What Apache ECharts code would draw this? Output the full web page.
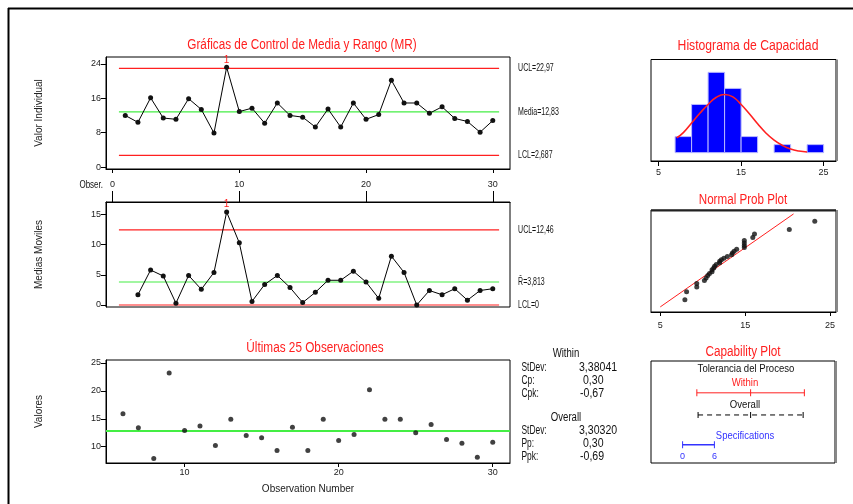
<!DOCTYPE html>
<html><head><meta charset="utf-8">
<script src="https://cdn.jsdelivr.net/npm/echarts@6/dist/echarts.min.js"></script>
<style>html,body{margin:0;padding:0;background:#fff}#c{width:853px;height:504px}</style>
</head><body><div id="c"></div>
<script>
// ---------- data ----------
const individuals = [12.0,10.4,16.1,11.4,11.1,15.9,13.4,7.9,23.2,12.9,13.7,10.2,14.9,12.0,11.6,9.3,13.5,9.3,14.9,11.1,12.2,20.2,14.9,14.9,12.5,14.0,11.3,10.6,8.1,10.8];
const movingRanges = [null,1.7,5.8,4.8,0.3,4.9,2.6,5.4,15.4,10.3,0.6,3.4,4.9,2.9,0.4,2.1,4.1,4.1,5.6,3.8,1.1,8.1,5.4,0.0,2.4,1.7,2.7,0.8,2.4,2.7];
const iLimitValues = [22.97, 12.83, 2.687];
const iLimitLabels = ['UCL=22,97', 'Media=12,83', 'LCL=2,687'];
const mrLimitValues = [12.46, 3.813, 0];
const mrLimitLabels = ['UCL=12,46', 'R\u0304=3,813', 'LCL=0'];
const outOfControlIndex = 8;
const lastObsStart = 6;
const binStarts = [7, 9, 11, 13, 15, 17, 19, 21, 23];
const binCounts = [2, 6, 10, 8, 2, 0, 1, 0, 1];
const binWidth = 2;
const curveX = [7.2, 8, 9, 10, 11, 12, 13, 14, 15, 16, 17, 18, 19, 20, 21, 22, 23];
const curveY = [1.85, 2.5, 3.7, 4.9, 6.0, 6.9, 7.25, 6.95, 6.0, 4.85, 3.6, 2.45, 1.55, 0.9, 0.45, 0.2, 0.08];
const probX = [7.9,8.1,9.3,9.3,10.2,10.4,10.6,10.8,11.1,11.1,11.3,11.4,11.6,12.0,12.0,12.2,12.5,12.9,13.4,13.5,13.7,14.0,14.9,14.9,14.9,14.9,15.9,16.1,20.2,23.2];
const probZ = [-2.0,-1.59,-1.35,-1.17,-1.02,-0.89,-0.77,-0.66,-0.57,-0.47,-0.38,-0.29,-0.21,-0.12,-0.04,0.04,0.12,0.21,0.29,0.38,0.47,0.57,0.66,0.77,0.89,1.02,1.17,1.35,1.59,2.0];
const probLineX = [5, 20.7];
const probLineZ = [-2.37, 2.38];
const withinInterval = [2.687, 12.83, 22.97];
const overallInterval = [2.92, 12.83, 22.74];
const specLimits = [0, 6];
const withinNames = ['StDev:', 'Cp:', 'Cpk:'];
const withinValues = ['3,38041', '0,30', '-0,67'];
const overallNames = ['StDev:', 'Pp:', 'Ppk:'];
const overallValues = ['3,30320', '0,30', '-0,69'];

// ---------- styles ----------
const FF = "'Liberation Sans',Arial,sans-serif";
const RED = '#ff2020', GREEN = '#44ee44', BLUE = '#0000ff', SPECBLUE = '#3333ff';
const tickStyle = {color: '#000', width: 1};
const lblStyle = {fontSize: 9, color: '#222', fontFamily: FF};

function valAxis(o) {
  const base = {
    type: 'value', splitLine: {show: false},
    axisLine: {show: true, onZero: false, lineStyle: {color: '#000'}},
    axisTick: {show: true, length: 4, lineStyle: tickStyle},
    axisLabel: Object.assign({}, lblStyle),
    nameTextStyle: {fontSize: 10, color: '#222', fontFamily: FF}
  };
  const r = Object.assign({}, base, o);
  if (o.ticks) {
    r.axisTick = Object.assign({}, base.axisTick, {customValues: o.ticks}, o.axisTick || {});
    r.axisLabel = Object.assign({}, base.axisLabel, {customValues: o.ticks}, o.axisLabel || {});
    delete r.ticks;
  }
  return r;
}
function hiddenAxis(o) { return Object.assign({type: 'value', show: false, splitLine: {show: false}}, o); }

const LINE_START = 0.5, LINE_END = 30.5;
function limitSeries(axisIndex, values, colors) {
  return values.map((v, i) => ({
    type: 'line', xAxisIndex: axisIndex, yAxisIndex: axisIndex, showSymbol: false, silent: true, z: 3,
    lineStyle: {color: colors[i], width: 1.2, type: 'solid'},
    data: [[LINE_START, v], [LINE_END, v]]
  }));
}

const gridBase = {show: true, borderColor: '#000', borderWidth: 1, backgroundColor: 'transparent'};
const grids = [
  Object.assign({left: 106, top: 57, width: 404, height: 112}, gridBase),
  Object.assign({left: 106, top: 202, width: 404, height: 105}, gridBase),
  Object.assign({left: 106, top: 360, width: 404, height: 103}, gridBase),
  Object.assign({left: 651, top: 59.5, width: 185, height: 101.5}, gridBase),
  Object.assign({left: 651, top: 210, width: 185, height: 102}, gridBase),
  Object.assign({left: 651, top: 361, width: 184, height: 102}, gridBase)
];

const xAxes = [
  valAxis({gridIndex: 0, min: -0.52, max: 31.36, ticks: [0, 10, 20, 30], axisLabel: {margin: 11}}),
  valAxis({gridIndex: 1, min: -0.52, max: 31.36, position: 'top', ticks: [0, 10, 20, 30],
           axisTick: {length: 11}, axisLabel: {show: false}}),
  valAxis({gridIndex: 2, min: 4.9, max: 31.12, ticks: [10, 20, 30], axisLabel: {margin: 5},
           name: 'Observation Number', nameLocation: 'middle', nameGap: 21}),
  valAxis({gridIndex: 3, min: 4.08, max: 26.5, ticks: [5, 15, 25], axisTick: {length: 5}, axisLabel: {margin: 7}}),
  valAxis({gridIndex: 4, min: 3.91, max: 25.7, ticks: [5, 15, 25], axisTick: {length: 4}, axisLabel: {margin: 9}}),
  hiddenAxis({gridIndex: 5, min: -5.96, max: 28.75})
];
const yAxes = [
  valAxis({gridIndex: 0, min: -0.46, max: 25.6, ticks: [0, 8, 16, 24], axisTick: {length: 5}, axisLabel: {margin: 5},
           name: 'Valor Individual', nameLocation: 'middle', nameRotate: 90, nameGap: 62}),
  valAxis({gridIndex: 1, min: -0.33, max: 17.07, ticks: [0, 5, 10, 15], axisTick: {length: 5}, axisLabel: {margin: 5},
           name: 'Medias Moviles', nameLocation: 'middle', nameRotate: 90, nameGap: 62}),
  valAxis({gridIndex: 2, min: 7.08, max: 25.54, ticks: [10, 15, 20, 25], axisTick: {length: 5}, axisLabel: {margin: 5},
           name: 'Valores', nameLocation: 'middle', nameRotate: 90, nameGap: 62}),
  hiddenAxis({gridIndex: 3, min: -1.04, max: 11.6}),
  hiddenAxis({gridIndex: 4, min: -2.63, max: 2.58}),
  hiddenAxis({gridIndex: 5, min: 0, max: 1})
];

const redOne = {show: true, formatter: '1', color: RED, position: 'top', distance: 0, fontSize: 10, fontFamily: FF};
const capRows = {within: 0.688, overall: 0.471, spec: 0.178};

const series = [].concat(
  limitSeries(0, iLimitValues, [RED, GREEN, RED]),
  limitSeries(1, mrLimitValues, [RED, GREEN, RED]),
  [
  {
    type: 'line', xAxisIndex: 0, yAxisIndex: 0, symbol: 'circle', symbolSize: 5, z: 5,
    itemStyle: {color: '#111'}, lineStyle: {color: '#000', width: 1},
    data: individuals.map((v, i) => i === outOfControlIndex ? {value: [i + 1, v], label: redOne} : [i + 1, v])
  },
  {
    type: 'line', xAxisIndex: 1, yAxisIndex: 1, symbol: 'circle', symbolSize: 5, z: 5,
    itemStyle: {color: '#111'}, lineStyle: {color: '#000', width: 1},
    data: movingRanges.map((v, i) => v === null ? null : (i === outOfControlIndex ? {value: [i + 1, v], label: redOne} : [i + 1, v])).filter(d => d !== null)
  },
  {
    type: 'scatter', xAxisIndex: 2, yAxisIndex: 2, symbol: 'circle', symbolSize: 5, z: 5,
    itemStyle: {color: '#111'},
    data: individuals.slice(lastObsStart - 1).map((v, i) => [i + lastObsStart, v]),
    markLine: {silent: true, symbol: 'none', label: {show: false}, lineStyle: {color: GREEN, width: 2, type: 'solid'},
               data: [{yAxis: iLimitValues[1]}]}
  },
  {
    type: 'custom', xAxisIndex: 3, yAxisIndex: 3,
    data: binStarts.map((s, i) => [s, s + binWidth, binCounts[i]]),
    encode: {x: [0, 1], y: 2},
    renderItem: function (params, api) {
      const c = api.value(2);
      if (!c) return null;
      const p0 = api.coord([api.value(0), c]);
      const p1 = api.coord([api.value(1), 0]);
      return {type: 'rect', shape: {x: p0[0], y: p0[1], width: p1[0] - p0[0], height: p1[1] - p0[1]},
              style: {fill: BLUE, stroke: '#b8b8ff', lineWidth: 1}};
    }
  },
  {
    type: 'line', xAxisIndex: 3, yAxisIndex: 3, smooth: true, showSymbol: false, z: 6,
    lineStyle: {color: RED, width: 1.6},
    data: curveX.map((x, i) => [x, curveY[i]])
  },
  {
    type: 'line', xAxisIndex: 4, yAxisIndex: 4, showSymbol: false, lineStyle: {color: RED, width: 1},
    data: probLineX.map((x, i) => [x, probLineZ[i]])
  },
  {
    type: 'scatter', xAxisIndex: 4, yAxisIndex: 4, symbolSize: 5, itemStyle: {color: '#111'}, z: 5,
    data: probX.map((x, i) => [x, probZ[i]])
  },
  {
    type: 'line', xAxisIndex: 5, yAxisIndex: 5, symbol: 'rect', symbolSize: [1, 7],
    itemStyle: {color: RED}, lineStyle: {color: RED, width: 1},
    data: withinInterval.map(x => [x, capRows.within])
  },
  {
    type: 'line', xAxisIndex: 5, yAxisIndex: 5, symbol: 'rect', symbolSize: [1, 6],
    itemStyle: {color: '#000'}, lineStyle: {color: '#000', width: 1, type: [5, 4]},
    data: overallInterval.map(x => [x, capRows.overall])
  },
  {
    type: 'line', xAxisIndex: 5, yAxisIndex: 5, symbol: 'rect', symbolSize: [1, 7],
    itemStyle: {color: SPECBLUE}, lineStyle: {color: SPECBLUE, width: 1.5},
    label: {show: true, position: 'bottom', distance: 4, color: SPECBLUE, fontSize: 9, fontFamily: FF,
            formatter: p => String(p.value[0])},
    data: specLimits.map(x => [x, capRows.spec])
  }
]);

function txt(x, y, s, opt, sx) {
  return {type: 'text', x: x, y: y, scaleX: sx || 1, silent: true, z: 100,
    style: Object.assign({text: s, fontFamily: FF, fontSize: 10, fill: '#111', align: 'left', verticalAlign: 'middle'}, opt || {})};
}
const chart = echarts.init(document.getElementById('c'), null, {renderer: 'canvas'});
chart.setOption({
  animation: false,
  backgroundColor: '#fff',
  textStyle: {fontFamily: FF},
  grid: grids, xAxis: xAxes, yAxis: yAxes, series: series
});

const T = 0.84;
const graphics = [
  {type: 'line', shape: {x1: 8.5, y1: 8, x2: 8.5, y2: 504}, style: {stroke: '#000', lineWidth: 2}},
  {type: 'line', shape: {x1: 8, y1: 8.5, x2: 853, y2: 8.5}, style: {stroke: '#000', lineWidth: 2}},
  {type: 'line', shape: {x1: 837, y1: 59.5, x2: 837, y2: 161}, style: {stroke: '#888', lineWidth: 2}},
  {type: 'line', shape: {x1: 837, y1: 210, x2: 837, y2: 312}, style: {stroke: '#888', lineWidth: 2}},
  {type: 'line', shape: {x1: 836, y1: 361, x2: 836, y2: 463}, style: {stroke: '#888', lineWidth: 2}},
  {type: 'line', shape: {x1: 651, y1: 210.5, x2: 836, y2: 210.5}, style: {stroke: '#222', lineWidth: 2}},
  txt(302, 45, 'Gráficas de Control de Media y Rango (MR)', {fontSize: 14, fill: RED, align: 'center'}, T),
  txt(315, 348, 'Últimas 25 Observaciones', {fontSize: 14, fill: RED, align: 'center'}, T),
  txt(748, 46, 'Histograma de Capacidad', {fontSize: 14, fill: RED, align: 'center'}, 0.87),
  txt(743, 200, 'Normal Prob Plot', {fontSize: 14, fill: RED, align: 'center'}, 0.83),
  txt(743, 352, 'Capability Plot', {fontSize: 14, fill: RED, align: 'center'}, T),
  txt(103, 185, 'Obser.', {fontSize: 10, align: 'right'}, 0.8),
  txt(746, 369, 'Tolerancia del Proceso', {fontSize: 11, align: 'center'}, 0.87),
  txt(745, 383, 'Within', {fontSize: 11, fill: RED, align: 'center'}, 0.87),
  txt(745, 405, 'Overall', {fontSize: 11, align: 'center'}, 0.87),
  txt(745, 436, 'Specifications', {fontSize: 11, fill: SPECBLUE, align: 'center'}, 0.86),
  txt(566, 354, 'Within', {fontSize: 12, align: 'center'}, 0.8),
  txt(566, 418, 'Overall', {fontSize: 12, align: 'center'}, 0.8)
];
const withinY = [367.7, 380.7, 393.3], overallY = [430.5, 443.5, 457];
const valueX = [579, 583, 580];
withinNames.forEach((n, i) => { graphics.push(txt(521.5, withinY[i], n, {fontSize: 12}, 0.7)); graphics.push(txt(valueX[i], withinY[i], withinValues[i], {fontSize: 12}, 0.88)); });
overallNames.forEach((n, i) => { graphics.push(txt(521.5, overallY[i], n, {fontSize: 12}, 0.7)); graphics.push(txt(valueX[i], overallY[i], overallValues[i], {fontSize: 12}, 0.88)); });
// limit labels positioned through the chart's own scales
function addLimitLabels(gridIndex, values, labels) {
  values.forEach((v, i) => {
    const p = chart.convertToPixel({gridIndex: gridIndex}, [LINE_END, v]);
    graphics.push(txt(p[0] + 19, p[1], labels[i], {fontSize: 10}, 0.7));
  });
}
addLimitLabels(0, iLimitValues, iLimitLabels);
addLimitLabels(1, mrLimitValues, mrLimitLabels);
chart.setOption({graphic: graphics});
</script></body></html>
